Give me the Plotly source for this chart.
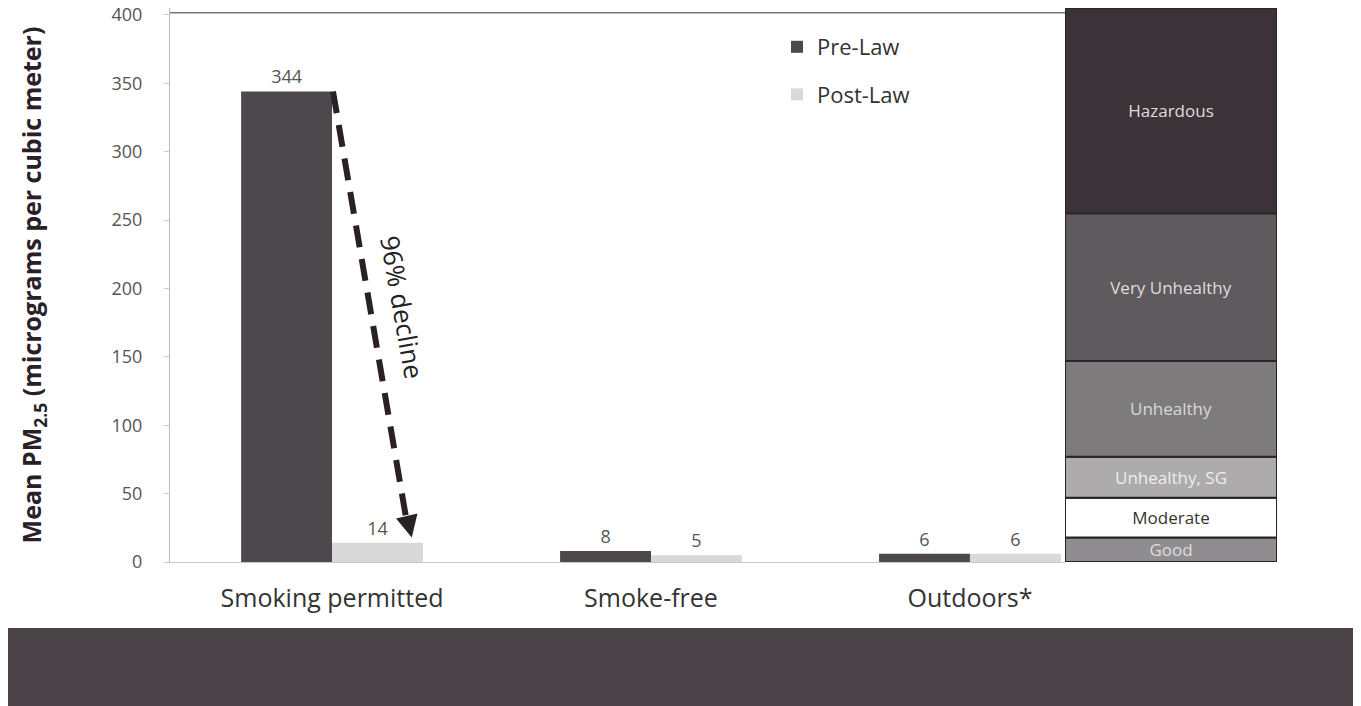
import plotly.graph_objects as go

# ---- data ----
categories = ["Smoking permitted", "Smoke-free", "Outdoors*"]
pre_law = [344, 8, 6]
post_law = [14, 5, 6]
y_ticks = [0, 50, 100, 150, 200, 250, 300, 350, 400]

band_labels = ["Good", "Moderate", "Unhealthy, SG", "Unhealthy", "Very Unhealthy", "Hazardous"]
band_edges = [0, 18, 47, 77, 147, 255, 405]
band_colors = ["#8f8d8f", "#ffffff", "#adabac", "#7e7b7d", "#5f5a5d", "#3c3338"]
band_text_colors = ["#dedede", "#333333", "#eeeeee", "#d8d8d8", "#dddddd", "#dddddd"]

decline_label = "96% decline"

FONT = "Open Sans"
W, H = 1361, 706
L, R, T, B = 162, 92, 0, 152
plot_w = W - L - R
plot_h = H - T - B
split = (1057 - L) / plot_w

fig = go.Figure()

fig.add_trace(go.Bar(
    name="Pre-Law", x=categories, y=pre_law,
    marker=dict(color="#4d484b", line=dict(width=0)),
    text=[str(v) for v in pre_law], textposition="outside",
    textfont=dict(size=18, color="#555555", family=FONT),
    cliponaxis=False, legendgroup="a",
))
fig.add_trace(go.Bar(
    name="Post-Law", x=categories, y=post_law,
    marker=dict(color="#dad9d9", line=dict(width=0)),
    text=[str(v) for v in post_law], textposition="outside",
    textfont=dict(size=18, color="#555555", family=FONT),
    cliponaxis=False, legendgroup="b",
))

# AQI band column
thick = [band_edges[i + 1] - band_edges[i] for i in range(len(band_labels))]
fig.add_trace(go.Bar(
    x=[0] * len(band_labels), y=thick, base=band_edges[:-1],
    width=1, xaxis="x2", yaxis="y",
    marker=dict(color=band_colors, line=dict(color="#2b2329", width=2)),
    text=band_labels, textposition="inside", insidetextanchor="middle",
    textangle=0, constraintext="none",
    textfont=dict(size=17, color=band_text_colors, family=FONT),
    showlegend=False, hoverinfo="skip",
))

# dashed decline arrow
fig.add_shape(type="line", xref="x", yref="y",
              x0=0.003, y0=pre_law[0], x1=0.236, y1=post_law[0] + 13,
              line=dict(color="#2a2127", width=6, dash="22px,12px"))
fig.add_annotation(xref="x", yref="y", axref="x", ayref="y",
                   x=0.25, y=post_law[0] + 4, ax=0.238, ay=post_law[0] + 16,
                   text="", showarrow=True, arrowhead=2, arrowsize=1.1,
                   arrowwidth=4, arrowcolor="#2a2127")
fig.add_annotation(xref="x", yref="y", x=0.222, y=186, text=decline_label,
                   showarrow=False, textangle=80,
                   font=dict(size=26, color="#222222", family=FONT))

# top frame line
fig.add_shape(type="line", xref="paper", yref="y", x0=0, x1=split, y0=401.5, y1=401.5,
              line=dict(color="#777777", width=1.5))

# dark bottom strip
fig.add_shape(type="rect", xref="paper", yref="paper",
              x0=-L / plot_w, x1=(W - L) / plot_w,
              y0=-(H - plot_h) / plot_h - 0.01, y1=-(620 - plot_h) / plot_h,
              fillcolor="#4a4449", line=dict(width=0), layer="above")

fig.update_layout(
    width=W, height=H,
    margin=dict(l=L, r=R, t=T, b=B, autoexpand=False),
    paper_bgcolor="white", plot_bgcolor="white",
    barmode="group", bargap=0.43, bargroupgap=0,
    font=dict(family=FONT, color="#333333"),
    showlegend=True,
    legend=dict(x=(769 - L) / plot_w, y=1 - (18 - T) / plot_h, xanchor="left", yanchor="top",
                font=dict(size=22, color="#333333", family=FONT),
                bgcolor="rgba(0,0,0,0)", traceorder="grouped", tracegroupgap=16,
                itemwidth=30),
    xaxis=dict(domain=[0, split], range=[-0.508, 2.298],
               showline=True, linecolor="#c8c8c8", linewidth=1,
               ticks="", showgrid=False, zeroline=False,
               tickfont=dict(size=25, color="#333333", family=FONT),
               ticklabelstandoff=14),
    xaxis2=dict(domain=[split, 1], range=[-0.5, 0.5], anchor="y",
                showticklabels=False, showgrid=False, zeroline=False, showline=False),
    yaxis=dict(range=[0, 405], tickvals=y_ticks, showgrid=False, zeroline=False,
               showline=True, linecolor="#bdbdbd", linewidth=1,
               ticks="outside", ticklen=5, tickcolor="#cccccc",
               ticklabelstandoff=18, ticklabeloverflow="allow",
               tickfont=dict(size=18, color="#555555", family=FONT),
               title=dict(text="<b>Mean PM<sub>2.5</sub> (micrograms per cubic meter)</b>",
                          font=dict(size=25, color="#2a2028", family=FONT),
                          standoff=62)),
)

fig.write_html("out.html")
